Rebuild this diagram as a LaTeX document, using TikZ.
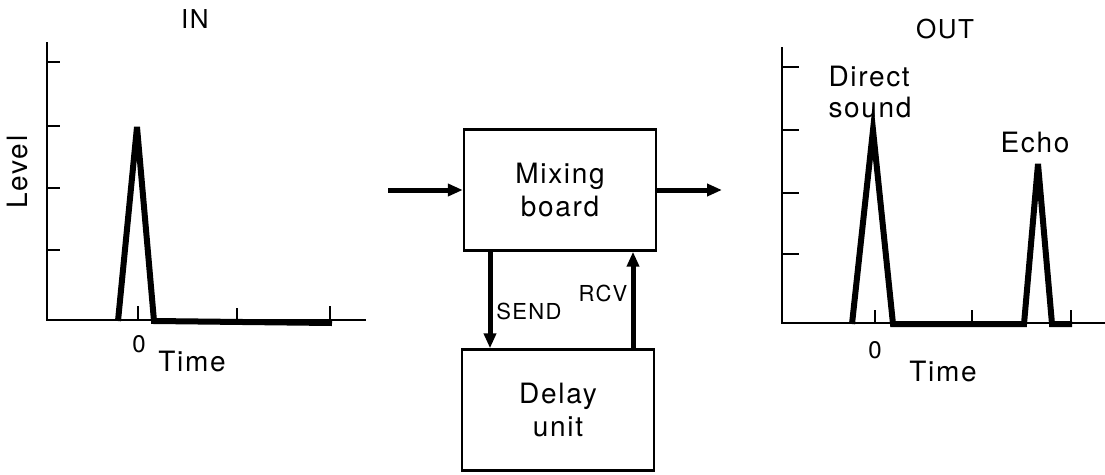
\documentclass[tikz,border=0pt]{standalone}
\usepackage{fontspec}
\setmainfont{TeX Gyre Heros}[LetterSpace=6]
\usetikzlibrary{arrows.meta, positioning}

\begin{document}
\begin{tikzpicture}[
    x=1pt, y=-1pt,
    >={Triangle[length=15pt, width=12pt]},
    font=\fontsize{28}{31}\selectfont,
    axis/.style={line width=2.6pt},
    tick/.style={line width=2pt},
    pulse/.style={line width=6pt, line join=miter, line cap=butt},
    flow/.style={->, line width=5pt},
    block/.style={rectangle, draw, line width=2.4pt, minimum width=192pt, minimum height=121pt, align=center, inner sep=0pt},
    small/.style={font=\fontsize{22}{24}\selectfont},
    title/.style={font=\fontsize{26}{28}\selectfont}
]
\useasboundingbox (0,0) rectangle (1105,474);

% Input graph
\draw[axis] (47,42) -- (47,320) -- (366,320);
\foreach \y in {62,126,188,250}
    \draw[axis] (47,\y) -- (60,\y);
\foreach \x/\t in {138/306,237/308,330/306}
    \draw[tick] (\x,\t) -- (\x,320);
\draw[pulse] (118,321) -- (137,127) -- (154,321) -- (332,323);
\node[title] (inlbl) at (195,19) {IN};
\node[rotate=90, font=\fontsize{28}{30}\selectfont] (level) at (18,172) {Level};
\node[font=\fontsize{24}{26}\selectfont] (inzero) at (139,344) {0};
\node (intime) at (192,361) {Time};

% Mixing and delay
\node[block] (mix) at (560,190) {Mixing\\[2pt]board};
\node[block] (delay) at (558,410) {Delay\\[2pt]unit};
\coordinate (src) at (388,190);
\coordinate (dst) at (722,190);
\draw[flow] (src) -- (mix.west);
\draw[flow] (mix.east) -- (dst);
\draw[flow] (mix.south -| 490,0) -- (delay.north -| 490,0);
\draw[flow] (delay.north -| 633,0) -- (mix.south -| 633,0);
\node[small] (sendlbl) at (529,311) {SEND};
\node[small] (rcvlbl) at (603,293) {RCV};

% Output graph
\draw[axis] (782,47) -- (782,323) -- (1105,323);
\foreach \y in {67,130,193,254}
    \draw[axis] (782,\y) -- (799,\y);
\foreach \x/\t in {875,972,1071}
    \draw[tick] (\x,310) -- (\x,323);
\draw[pulse] (852,324) -- (873,130) -- (893,324) -- (1024,324) -- (1038,164) -- (1052,324) -- (1072,324);
\node[title] (outlbl) at (945,29) {OUT};
\node[align=left, font=\fontsize{28}{31}\selectfont] (direct) at (870,92) {Direct\\sound};
\node (echo) at (1035,143) {Echo};
\node[font=\fontsize{24}{26}\selectfont] (outzero) at (875,350) {0};
\node (outtime) at (943,371) {Time};

\end{tikzpicture}
\end{document}
